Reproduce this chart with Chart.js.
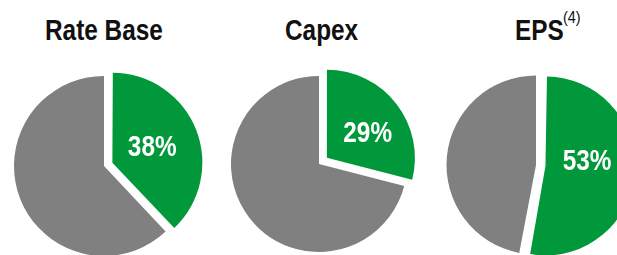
<!DOCTYPE html>
<html>
<head>
<meta charset="utf-8">
<script src="https://cdn.jsdelivr.net/npm/chart.js@4/dist/chart.umd.min.js"></script>
<style>
  html, body { margin: 0; padding: 0; background: #fff; }
  body { width: 617px; height: 255px; position: relative; overflow: hidden; }
  .title {
    position: absolute; top: 14px; height: 30px; line-height: 29px;
    font: bold 29px 'Liberation Sans', sans-serif;
    color: #111; white-space: nowrap;
    transform: scaleX(0.84); transform-origin: left top;
  }
  .sup {
    position: absolute; top: 9px; line-height: 16px;
    font: 16px 'Liberation Sans', sans-serif; color: #111;
    transform: scaleX(0.9); transform-origin: left top;
  }
  canvas { position: absolute; top: 0; }
</style>
</head>
<body>
<div class="title" style="left:45px">Rate Base</div>
<div class="title" style="left:285px">Capex</div>
<div class="title" style="left:515px">EPS</div>
<div class="sup" style="left:563px">(4)</div>
<script>
// share of each total (green part first, rest second)
const categories = ['Rate Base', 'Capex', 'EPS'];
const greenShare = [38, 29, 53];
const restShare = [62, 71, 47];

const GREEN = '#00983A';
const GRAY = '#808080';

// layout for each pie: center x, center y, radius, pull-out of green slice, label nudge
const layout = [
  { cx: 103.5, cy: 166, r: 90, off: 9, nudge: [-2, 2] },
  { cx: 319, cy: 164, r: 88, off: 10, nudge: [6, 3] },
  { cx: 536, cy: 165, r: 89.5, off: 9.5, nudge: [-3, -8] }
];

const pctLabel = {
  id: 'pctLabel',
  afterDatasetsDraw(chart, args, opts) {
    const ctx = chart.ctx;
    const el = chart.getDatasetMeta(0).data[0];
    const mid = (el.startAngle + el.endAngle) / 2;
    const t = opts.r / 2 + opts.off;
    const x = el.x + Math.cos(mid) * t + opts.nudge[0];
    const y = el.y + Math.sin(mid) * t + opts.nudge[1];
    ctx.save();
    ctx.translate(x, y);
    ctx.scale(0.84, 1);
    ctx.fillStyle = '#fff';
    ctx.font = "bold 29px 'Liberation Sans', sans-serif";
    ctx.textAlign = 'center';
    ctx.textBaseline = 'middle';
    ctx.fillText(chart.data.datasets[0].data[0] + '%', 0, 0);
    ctx.restore();
  }
};

const W = 216, H = 255;

function makePie(i, colors, radius, offset, withLabel) {
  const L = layout[i];
  const cv = document.createElement('canvas');
  document.body.appendChild(cv);
  cv.width = W;
  cv.height = H;
  cv.style.left = (L.cx - W / 2) + 'px';
  new Chart(cv, {
    type: 'pie',
    data: {
      labels: [categories[i], 'Other'],
      datasets: [{
        data: [greenShare[i], restShare[i]],
        backgroundColor: colors,
        borderWidth: 0,
        offset: offset,
        radius: radius
      }]
    },
    options: {
      responsive: false,
      animation: false,
      layout: { padding: { top: 2 * L.cy - H, bottom: 0, left: 0, right: 0 } },
      plugins: {
        legend: { display: false },
        tooltip: { enabled: false },
        pctLabel: withLabel ? { off: L.off, r: L.r, nudge: L.nudge } : false
      }
    },
    plugins: withLabel ? [pctLabel] : []
  });
}

categories.forEach((name, i) => {
  const L = layout[i];
  // gray remainder, full radius, not pulled out
  makePie(i, ['rgba(0,0,0,0)', GRAY], L.r, [0, 0], false);
  // green slice pulled out: Chart.js moves an arc by offset/4 and grows its
  // radius by offset/4 * (1 - sin(min(PI, circumference))), so compensate
  const circ = 2 * Math.PI * greenShare[i] / (greenShare[i] + restShare[i]);
  const grow = L.off * (1 - Math.sin(Math.min(Math.PI, circ)));
  makePie(i, [GREEN, 'rgba(0,0,0,0)'], L.r - grow, [4 * L.off, 0], true);
});
</script>
</body>
</html>
